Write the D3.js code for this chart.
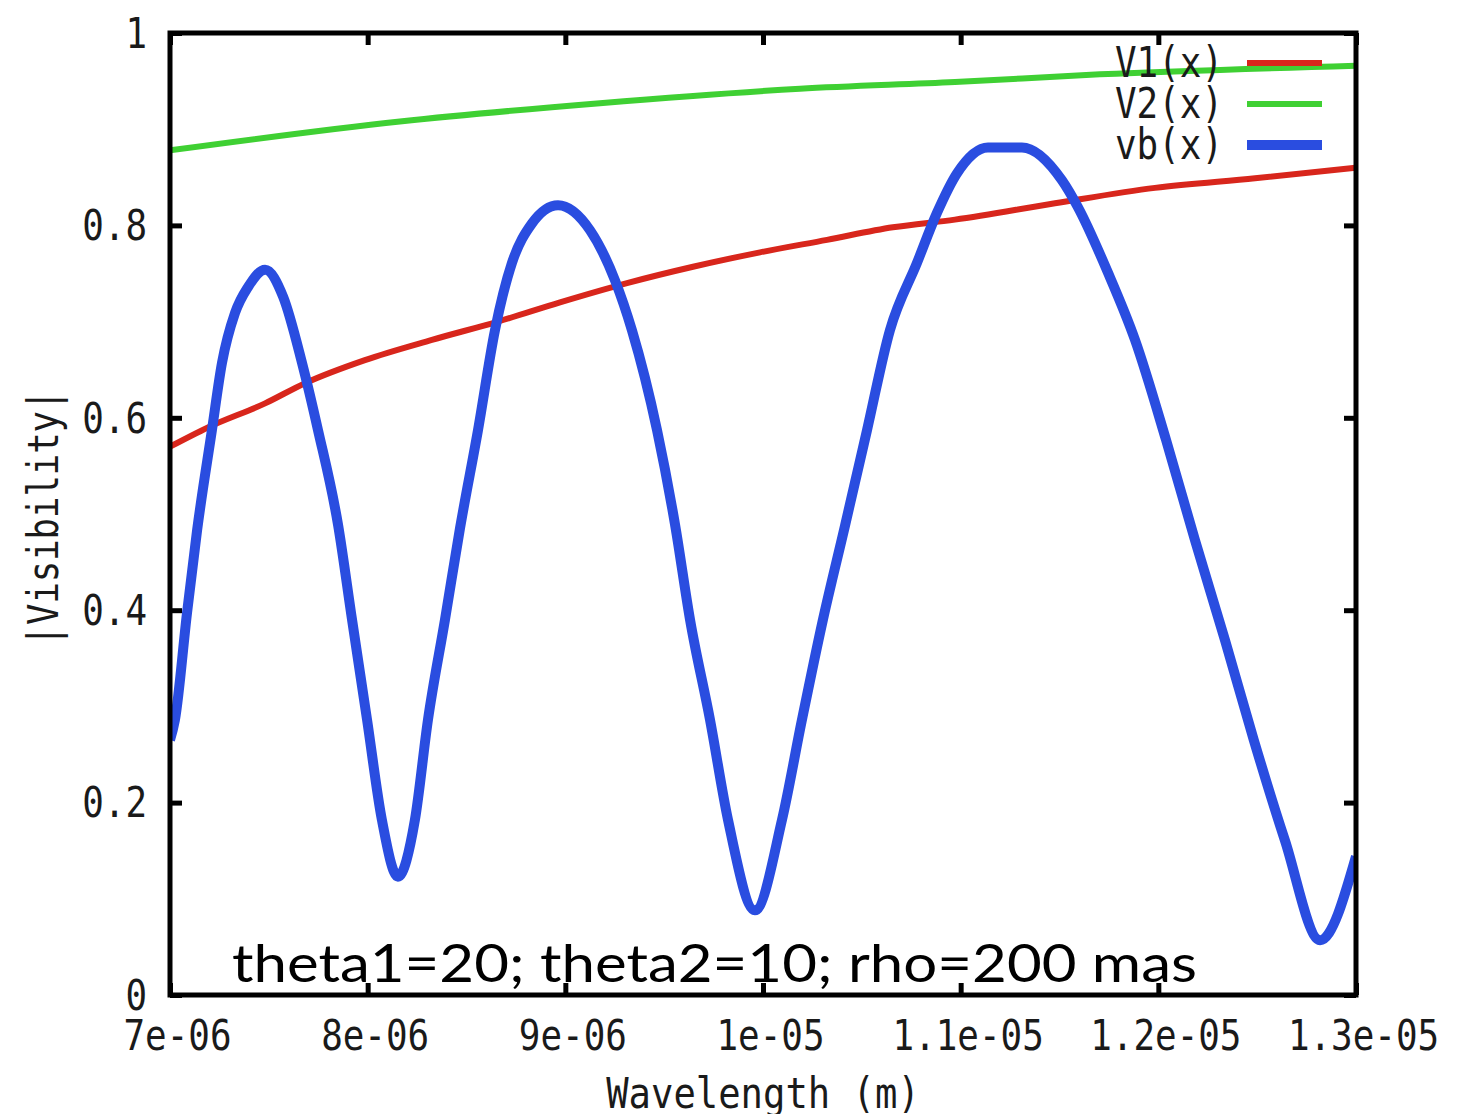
<!DOCTYPE html>
<html>
<head>
<meta charset="utf-8">
<script src="https://cdn.jsdelivr.net/npm/d3@7"></script>
<style>
  body { margin: 0; background: #fff; }
  .tick text, .lbl { font-family: "DejaVu Sans Mono", monospace; fill: #1a1a1a; }
</style>
</head>
<body>
<div class="chart"></div>
<script>
// values: wavelength in metres, visibility 0..1
var wlV1 = [7.000e-6, 7.192e-6, 7.481e-6, 7.683e-6, 7.986e-6, 8.325e-6, 8.659e-6, 8.973e-6, 9.312e-6,
  9.646e-6, 9.985e-6, 1.0324e-5, 1.0657e-5, 1.0971e-5, 1.1477e-5, 1.1983e-5, 1.2489e-5, 1.3000e-5];
var visV1 = [0.570, 0.590, 0.615, 0.636, 0.660, 0.681, 0.700, 0.720, 0.740,
  0.757, 0.772, 0.785, 0.798, 0.806, 0.823, 0.839, 0.849, 0.860];

var wlV2 = [7.000e-6, 8.163e-6, 9.175e-6, 1.0187e-5, 1.0971e-5, 1.1704e-5, 1.3000e-5];
var visV2 = [0.878, 0.908, 0.927, 0.942, 0.949, 0.957, 0.966];

var wlVb = [7.000e-6, 7.025e-6, 7.086e-6, 7.137e-6, 7.212e-6, 7.263e-6, 7.329e-6, 7.395e-6, 7.481e-6,
  7.572e-6, 7.668e-6, 7.749e-6, 7.850e-6, 7.921e-6, 7.997e-6, 8.072e-6, 8.153e-6,
  8.239e-6, 8.305e-6, 8.391e-6, 8.467e-6, 8.558e-6, 8.644e-6, 8.730e-6, 8.831e-6, 8.963e-6,
  9.125e-6, 9.251e-6, 9.337e-6, 9.464e-6, 9.555e-6, 9.631e-6, 9.732e-6, 9.823e-6, 9.959e-6,
  1.0096e-5, 1.0197e-5, 1.0303e-5, 1.0415e-5, 1.0526e-5, 1.0642e-5, 1.0779e-5, 1.0880e-5, 1.0981e-5,
  1.1138e-5, 1.1310e-5, 1.1512e-5, 1.1593e-5, 1.1745e-5, 1.1882e-5, 1.2039e-5, 1.2185e-5,
  1.2337e-5, 1.2483e-5, 1.2640e-5, 1.2818e-5, 1.3000e-5];
var visVb = [0.265, 0.286, 0.397, 0.483, 0.587, 0.657, 0.709, 0.736, 0.754,
  0.726, 0.657, 0.587, 0.489, 0.390, 0.286, 0.182, 0.123,
  0.182, 0.286, 0.390, 0.485, 0.587, 0.691, 0.761, 0.802, 0.821,
  0.795, 0.743, 0.691, 0.587, 0.489, 0.390, 0.286, 0.182, 0.088,
  0.182, 0.286, 0.390, 0.488, 0.587, 0.691, 0.761, 0.813, 0.854,
  0.881, 0.881, 0.847, 0.819, 0.751, 0.681, 0.577, 0.473,
  0.369, 0.265, 0.161, 0.057, 0.144];

var xTicks = [7e-6, 8e-6, 9e-6, 1e-5, 1.1e-5, 1.2e-5, 1.3e-5];
var xTickLabels = ["7e-06", "8e-06", "9e-06", "1e-05", "1.1e-05", "1.2e-05", "1.3e-05"];
var yTicks = [0, 0.2, 0.4, 0.6, 0.8, 1];
var yTickLabels = ["0", "0.2", "0.4", "0.6", "0.8", "1"];

var seriesNames = ["V1(x)", "V2(x)", "vb(x)"];
var seriesColors = ["#d8261c", "#3fd033", "#2a4de0"];
var seriesWidths = [6, 6, 10];

var svgWidth = 1458;
var svgHeight = 1114;
var margin = { top: 33, bottom: 119, left: 170, right: 102 };
var width = svgWidth - margin.left - margin.right;
var height = svgHeight - margin.top - margin.bottom;
var charW = 21.6;

var svg = d3.select(".chart")
  .append("svg")
  .attr("width", svgWidth)
  .attr("height", svgHeight);

var chartGroup = svg.append("g")
  .attr("transform", `translate(${margin.left}, ${margin.top})`);

var xScale = d3.scaleLinear().domain([7e-6, 1.3e-5]).range([0, width]);
var yScale = d3.scaleLinear().domain([0, 1]).range([height, 0]);

// axes, ticks pointing inward on all four sides
var xAxis = d3.axisBottom(xScale).tickValues(xTicks)
  .tickFormat((d, i) => xTickLabels[i]).tickSize(-12).tickSizeOuter(0);
var xAxisTop = d3.axisTop(xScale).tickValues(xTicks).tickFormat("").tickSize(-12).tickSizeOuter(0);
var yAxis = d3.axisLeft(yScale).tickValues(yTicks)
  .tickFormat((d, i) => yTickLabels[i]).tickSize(-12).tickSizeOuter(0);
var yAxisRight = d3.axisRight(yScale).tickValues(yTicks).tickFormat("").tickSize(-12).tickSizeOuter(0);

var gx = chartGroup.append("g").attr("transform", `translate(0, ${height})`).call(xAxis);
chartGroup.append("g").call(xAxisTop);
var gy = chartGroup.append("g").call(yAxis);
chartGroup.append("g").attr("transform", `translate(${width}, 0)`).call(yAxisRight);

chartGroup.selectAll(".domain").remove();
chartGroup.selectAll(".tick line").attr("stroke", "#000").attr("stroke-width", 5);

gx.selectAll(".tick text")
  .attr("x", 7)
  .attr("y", 40)
  .attr("dy", "0.36em")
  .style("font-size", "42px")
  .attr("textLength", d => xTickLabels[xTicks.indexOf(d)].length * charW)
  .attr("lengthAdjust", "spacingAndGlyphs");

gy.selectAll(".tick text")
  .attr("x", -23)
  .attr("dy", "0.34em")
  .style("font-size", "42px")
  .attr("textLength", d => yTickLabels[yTicks.indexOf(d)].length * charW)
  .attr("lengthAdjust", "spacingAndGlyphs");

// clip lines to the frame
svg.append("defs").append("clipPath").attr("id", "plotclip")
  .append("rect").attr("width", width).attr("height", height);

var line = d3.line()
  .x(d => xScale(d[0]))
  .y(d => yScale(d[1]))
  .curve(d3.curveMonotoneX);

var seriesData = [
  d3.zip(wlV1, visV1),
  d3.zip(wlV2, visV2),
  d3.zip(wlVb, visVb)
];

var plotGroup = chartGroup.append("g").attr("clip-path", "url(#plotclip)");

// legend
var legend = chartGroup.append("g");
seriesNames.forEach(function(name, i) {
  var ly = 29 + i * 41;
  legend.append("text")
    .attr("class", "lbl")
    .attr("x", 1053)
    .attr("y", ly)
    .attr("dy", "0.36em")
    .attr("text-anchor", "end")
    .style("font-size", "42px")
    .attr("textLength", name.length * charW)
    .attr("lengthAdjust", "spacingAndGlyphs")
    .text(name);
  legend.append("line")
    .attr("x1", 1077).attr("x2", 1152)
    .attr("y1", ly + 1).attr("y2", ly + 1)
    .attr("stroke", seriesColors[i])
    .attr("stroke-width", seriesWidths[i]);
});

seriesData.forEach(function(data, i) {
  plotGroup.append("path")
    .datum(data)
    .attr("d", line)
    .attr("fill", "none")
    .attr("stroke", seriesColors[i])
    .attr("stroke-width", seriesWidths[i])
    .attr("stroke-linejoin", "round");
});

// frame
chartGroup.append("rect")
  .attr("width", width)
  .attr("height", height)
  .attr("fill", "none")
  .attr("stroke", "#000")
  .attr("stroke-width", 5);

// axis titles
svg.append("text")
  .attr("class", "lbl")
  .attr("x", margin.left + width / 2)
  .attr("y", 1108)
  .attr("text-anchor", "middle")
  .style("font-size", "42px")
  .attr("textLength", 14 * 22.4)
  .attr("lengthAdjust", "spacingAndGlyphs")
  .text("Wavelength (m)");

svg.append("text")
  .attr("class", "lbl")
  .attr("transform", "translate(43, 518) rotate(-90)")
  .attr("dy", "0.36em")
  .attr("text-anchor", "middle")
  .style("font-size", "42px")
  .attr("textLength", 12 * 21.4)
  .attr("lengthAdjust", "spacingAndGlyphs")
  .text("|Visibility|");

// annotation
svg.append("text")
  .attr("x", 232)
  .attr("y", 982)
  .style("font-family", "Lato, sans-serif")
  .style("font-size", "52px")
  .attr("fill", "#000")
  .attr("textLength", 965)
  .attr("lengthAdjust", "spacingAndGlyphs")
  .text("theta1=20; theta2=10; rho=200 mas");
</script>
</body>
</html>
